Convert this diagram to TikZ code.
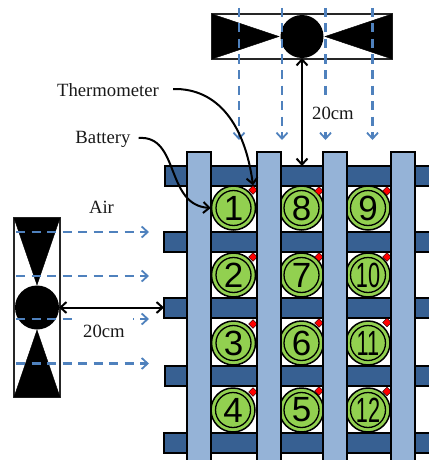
\documentclass[tikz,border=0pt]{standalone}
\usepackage{fontspec}
\setmainfont{Liberation Serif}
\newfontfamily\numfont{Liberation Sans}
\usetikzlibrary{arrows.meta,shapes.geometric}
\definecolor{barD}{HTML}{376092}
\definecolor{barL}{HTML}{95B3D7}
\definecolor{cellG}{HTML}{92D050}
\definecolor{airB}{HTML}{4F81BD}
\tikzset{
 x=1pt,y=-1pt,
 hbar/.style={fill=barD,draw=black,line width=1.5pt},
 vbar/.style={fill=barL,draw=black,line width=1.5pt},
 fanpart/.style={fill=black,draw=black,line width=0.4pt},
 fanbox/.style={draw=black!85,line width=1.6pt,fill=white},
 cell/.style={circle,draw=black,fill=cellG,line width=1.5pt,minimum size=44pt,inner sep=0pt,
   path picture={\draw[line width=1.3pt] (path picture bounding box.center) circle[radius=17.5pt];}},
 sensor/.style={diamond,fill=red,draw=black,line width=0.3pt,minimum size=9pt,inner sep=0pt},
 airflow/.style={draw=airB,line width=2.1pt,dash pattern=on 9pt off 6.5pt,-{Straight Barb[length=6pt,width=11pt,line width=1.8pt]}},
 gap/.style={draw=black,line width=2pt,{Straight Barb[length=6pt,width=11pt]}-{Straight Barb[length=6pt,width=11pt]}},
 pointer/.style={draw=black,line width=2pt,-{Straight Barb[length=6pt,width=11pt]}},
 lab/.style={font=\fontsize{18.7pt}{20pt}\selectfont,text=black!90,inner sep=0pt},
 whitelab/.style={lab,fill=white,minimum width=58pt,minimum height=30pt}
}
\newcommand{\cellnum}[2]{\numfont\fontsize{#2}{#2}\selectfont #1}
\begin{document}
\begin{tikzpicture}
\useasboundingbox (0,0) rectangle (428,460);
% horizontal bars
\foreach \n/\xa/\ya in {a/165/166,b/164/232,c/164/298,d/165/366,e/164/433}
  \node[hbar,anchor=north west,minimum width=270pt,minimum height=20pt,inner sep=0pt,outer sep=0pt] (h\n) at (\xa,\ya) {};
% cells
\foreach \name/\cx/\cy/\txt in {c1/233.5/208/1,c8/301.5/208/8,c9/368/208/9,
  c2/233.5/275/2,c7/301.5/275/7,c3/233.5/343/3,c6/301.5/343/6,c4/233/410/4,c5/301.5/410/5}
  \node[cell] (\name) at (\cx,\cy) {\cellnum{\txt}{35pt}};
\foreach \name/\cx/\cy/\txt in {c10/368/275/10,c11/368/343/11,c12/368/410/12}
  \node[cell] (\name) at (\cx,\cy) {\scalebox{0.62}[1]{\cellnum{\txt}{35pt}}};
% sensors
\foreach \name/\cx/\cy in {s1/253/190,s8/319/191,s9/387/191,s2/253/257,s7/319/257,s10/387/257,
  s3/253/324,s6/319/323,s11/387/322.5,s4/253/392,s5/319/391,s12/387/391.5}
  \node[sensor] (\name) at (\cx,\cy) {};
% vertical bars
\foreach \n/\xa in {a/187,b/257,c/323,d/391}
  \node[vbar,anchor=north west,minimum width=24pt,minimum height=320pt,inner sep=0pt,outer sep=0pt] (v\n) at (\xa,152) {};
% top fan
\node[fanbox,anchor=north west,minimum width=180pt,minimum height=45pt,inner sep=0pt,outer sep=0pt] (topfan) at (212,14) {};
\fill[fanpart] (212,14) -- (279,36.5) -- (212,59) -- cycle;
\fill[fanpart] (392,14) -- (325,36.5) -- (392,59) -- cycle;
\node[circle,fill=black,minimum width=43pt,minimum height=43pt,inner sep=0pt,outer sep=0pt] (tophub) at (302,36.5) {};
% left fan
\node[fanbox,anchor=north west,minimum width=46pt,minimum height=179pt,inner sep=0pt,outer sep=0pt] (leftfan) at (14,218) {};
\fill[fanpart] (14,218) -- (37,285) -- (60,218) -- cycle;
\fill[fanpart] (14,397) -- (37,330) -- (60,397) -- cycle;
\node[circle,fill=black,minimum size=44pt,inner sep=0pt,outer sep=0pt] (lefthub) at (37,307.5) {};
% air flows
\foreach \n/\px in {a/239,b/282,c/325.5,d/372.5}{
  \coordinate (ts\n) at (\px,8);
  \coordinate (te\n) at (\px,140);
  \draw[airflow] (ts\n) -- (te\n);
}
\foreach \n/\py in {a/232,b/276,c/319,d/363.5}{
  \coordinate (ls\n) at (16,\py);
  \coordinate (le\n) at (149,\py);
  \draw[airflow] (ls\n) -- (le\n);
}
% labels
\node[whitelab] (gaptop) at (333,113) {20cm};
\node[whitelab] (gapleft) at (104,331) {20cm};
\node[lab] (air) at (101.5,207) {Air};
\node[lab] (therm) at (108,90) {Thermometer};
\node[lab] (batt) at (103,139) {Battery};
% gap arrows
\draw[gap] (tophub.south) -- (ha.north -| tophub.south);
\draw[gap] (lefthub.east) -- (hc.west |- lefthub.east);
% pointers
\draw[pointer] (therm.east) ++(14,-1) .. controls (218,88) and (245,125) .. (s1.north);
\draw[pointer] (batt.east) ++(8,-1) .. controls (180,135) and (165,205) .. (c1.west);
\end{tikzpicture}
\end{document}
